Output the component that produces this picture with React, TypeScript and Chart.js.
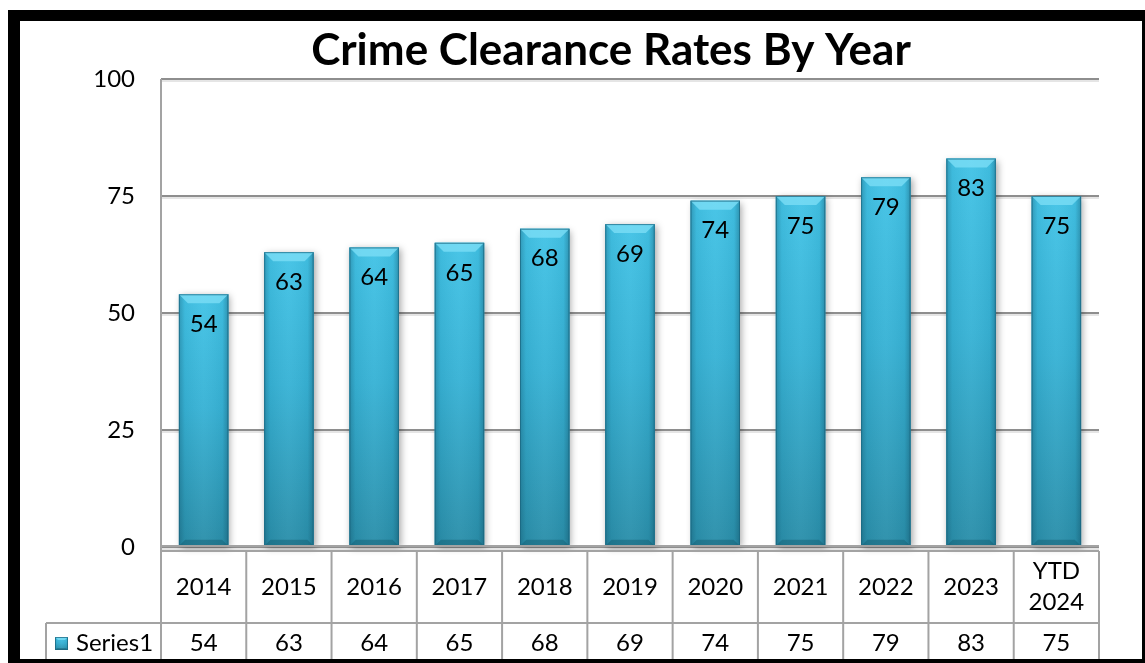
import { useEffect, useRef } from "react";
import { Chart, registerables } from "chart.js";

Chart.register(...registerables);

const titleText = "Crime Clearance Rates By Year";
const seriesName = "Series1";
const categories = ["2014", "2015", "2016", "2017", "2018", "2019", "2020", "2021", "2022", "2023", "YTD 2024"];
const values = [54, 63, 64, 65, 68, 69, 74, 75, 79, 83, 75];
const yTicks = [0, 25, 50, 75, 100];

const FONT = "Lato, 'Open Sans', sans-serif";

function barGradient(c: CanvasRenderingContext2D, top: number, bottom: number) {
  const g = c.createLinearGradient(0, top, 0, bottom);
  g.addColorStop(0, "#42C3E6");
  g.addColorStop(0.45, "#37B2D5");
  g.addColorStop(1, "#2A8EA9");
  return g;
}

function paintBevel(c: CanvasRenderingContext2D, left: number, top: number, right: number, bottom: number, b: number) {
  const w = right - left;
  const hg = c.createLinearGradient(left, 0, right, 0);
  hg.addColorStop(0, "rgba(10,60,80,0.30)");
  hg.addColorStop(0.12, "rgba(10,60,80,0.06)");
  hg.addColorStop(0.5, "rgba(255,255,255,0.04)");
  hg.addColorStop(0.88, "rgba(10,60,80,0.06)");
  hg.addColorStop(1, "rgba(10,60,80,0.35)");
  c.fillStyle = hg;
  c.fillRect(left, top, w, bottom - top);
  c.beginPath();
  c.moveTo(left, top);
  c.lineTo(right, top);
  c.lineTo(right - b, top + b);
  c.lineTo(left + b, top + b);
  c.closePath();
  c.fillStyle = "rgba(120,220,245,0.85)";
  c.fill();
  c.beginPath();
  c.moveTo(left, bottom);
  c.lineTo(right, bottom);
  c.lineTo(right - b * 0.7, bottom - b * 0.7);
  c.lineTo(left + b * 0.7, bottom - b * 0.7);
  c.closePath();
  c.fillStyle = "rgba(20,90,110,0.45)";
  c.fill();
  c.strokeStyle = "rgba(25,100,125,0.7)";
  c.lineWidth = 1;
  c.strokeRect(left + 0.5, top + 0.5, w - 1, bottom - top - 1);
}

const customPlugin = {
  id: "custom",
  beforeDraw(chart: any) {
    const c: CanvasRenderingContext2D = chart.ctx;
    c.save();
    c.fillStyle = "#ffffff";
    c.fillRect(0, 0, chart.width, chart.height);
    c.fillStyle = "#000000";
    c.font = `bold 44px ${FONT}`;
    c.textAlign = "center";
    c.textBaseline = "middle";
    c.fillText(titleText, 611, 51);
    c.restore();
  },
  beforeDatasetsDraw(chart: any) {
    const c: CanvasRenderingContext2D = chart.ctx;
    const ys = chart.scales.y;
    const { left, right } = chart.chartArea;
    c.save();
    yTicks.forEach((t) => {
      const y = ys.getPixelForValue(t);
      c.fillStyle = "rgba(0,0,0,0.10)";
      c.fillRect(left, y + 1, right - left, 2);
    });
    const meta = chart.getDatasetMeta(0);
    meta.data.forEach((el: any) => {
      const p = el.getProps(["x", "y", "base", "width"], true);
      c.save();
      c.shadowColor = "rgba(0,0,0,0.35)";
      c.shadowBlur = 7;
      c.shadowOffsetX = 2;
      c.shadowOffsetY = 2;
      c.fillStyle = "#2f9fbf";
      c.fillRect(p.x - p.width / 2, p.y, p.width, p.base - p.y);
      c.restore();
    });
    c.restore();
  },
  afterDatasetsDraw(chart: any) {
    const c: CanvasRenderingContext2D = chart.ctx;
    const meta = chart.getDatasetMeta(0);
    const xs = chart.scales.x;
    const { left, right, bottom, top } = chart.chartArea;
    c.save();
    meta.data.forEach((el: any, i: number) => {
      const p = el.getProps(["x", "y", "base", "width"], true);
      paintBevel(c, p.x - p.width / 2, p.y, p.x + p.width / 2, p.base, 9);
      c.fillStyle = "#000000";
      c.font = `24px ${FONT}`;
      c.textAlign = "center";
      c.textBaseline = "middle";
      c.fillText(String(values[i]), p.x, p.y + 30);
    });

    const n = categories.length;
    const colW = (right - left) / n;
    const t1 = bottom + 4;
    const t2 = bottom + 76;
    const tEnd = chart.height;
    const legendLeft = 46;
    c.strokeStyle = "#a3a3a3";
    c.lineWidth = 2;
    c.beginPath();
    c.moveTo(left, bottom - 1);
    c.lineTo(right, bottom - 1);
    c.stroke();
    c.beginPath();
    c.moveTo(left, t1);
    c.lineTo(right, t1);
    c.moveTo(legendLeft, t2);
    c.lineTo(right, t2);
    c.moveTo(left, top);
    c.lineTo(left, tEnd);
    c.moveTo(legendLeft, t2);
    c.lineTo(legendLeft, tEnd);
    for (let i = 0; i < n; i++) {
      const bx = xs.getPixelForValue(i) + colW / 2;
      c.moveTo(bx, t1);
      c.lineTo(bx, tEnd);
    }
    c.stroke();

    c.fillStyle = "#000000";
    c.font = `24px ${FONT}`;
    c.textAlign = "center";
    c.textBaseline = "middle";
    const row1 = (t1 + t2) / 2;
    const row2 = t2 + 20;
    categories.forEach((cat, i) => {
      const cx = xs.getPixelForValue(i);
      const lines = cat.split(" ");
      const lh = 31;
      lines.forEach((ln, k) => {
        c.fillText(ln, cx, row1 + (k - (lines.length - 1) / 2) * lh);
      });
      c.fillText(String(values[i]), cx, row2);
    });
    const kx = 55, ky = row2 - 6, ks = 13;
    c.fillStyle = barGradient(c, ky, ky + ks);
    c.fillRect(kx, ky, ks, ks);
    paintBevel(c, kx, ky, kx + ks, ky + ks, 3);
    c.fillStyle = "#000000";
    c.textAlign = "left";
    c.fillText(seriesName, kx + 21, row2);
    c.restore();
  },
  afterDraw(chart: any) {
    const c: CanvasRenderingContext2D = chart.ctx;
    c.save();
    c.fillStyle = "#000000";
    c.fillRect(8, 10, 12, chart.height - 10);
    c.fillRect(8, 10, chart.width - 8, 11);
    c.fillRect(chart.width - 3, 10, 3, chart.height - 10);
    c.fillRect(8, chart.height - 4, chart.width - 8, 4);
    c.restore();
  },
};

export default function App() {
  const ref = useRef<HTMLCanvasElement | null>(null);
  useEffect(() => {
    if (!ref.current) return;
    const chart = new Chart(ref.current, {
      type: "bar",
      data: {
        labels: categories,
        datasets: [
          {
            label: seriesName,
            data: values,
            backgroundColor: (ctx: any) => {
              const chart = ctx.chart;
              if (!chart.chartArea || ctx.parsed == null) return "#37B2D5";
              const ys = chart.scales.y;
              return barGradient(chart.ctx, ys.getPixelForValue(ctx.parsed.y), ys.getPixelForValue(0));
            },
            borderWidth: 0,
            barPercentage: 0.58,
            categoryPercentage: 1,
          },
        ],
      },
      options: {
        responsive: false,
        animation: false,
        devicePixelRatio: 1,
        layout: { padding: { left: 0, top: 79, right: 46, bottom: 116 } },
        plugins: {
          legend: { display: false },
          title: { display: false },
          tooltip: { enabled: false },
        },
        scales: {
          x: { display: false },
          y: {
            min: 0,
            max: 100,
            afterFit: (s: any) => {
              s.width = 161;
            },
            afterBuildTicks: (s: any) => {
              s.ticks = yTicks.map((v) => ({ value: v }));
            },
            ticks: {
              color: "#000000",
              padding: 26,
              font: { family: FONT, size: 24 },
            },
            grid: { color: "#8e8e8e", lineWidth: 2, drawTicks: false },
            border: { display: false },
          },
        },
      },
      plugins: [customPlugin],
    });
    return () => chart.destroy();
  }, []);
  return (
    <div style={{ position: "fixed", left: 0, top: 0, width: 1145, height: 663 }}>
      <canvas ref={ref} width={1145} height={663} style={{ width: 1145, height: 663, display: "block" }} />
    </div>
  );
}
